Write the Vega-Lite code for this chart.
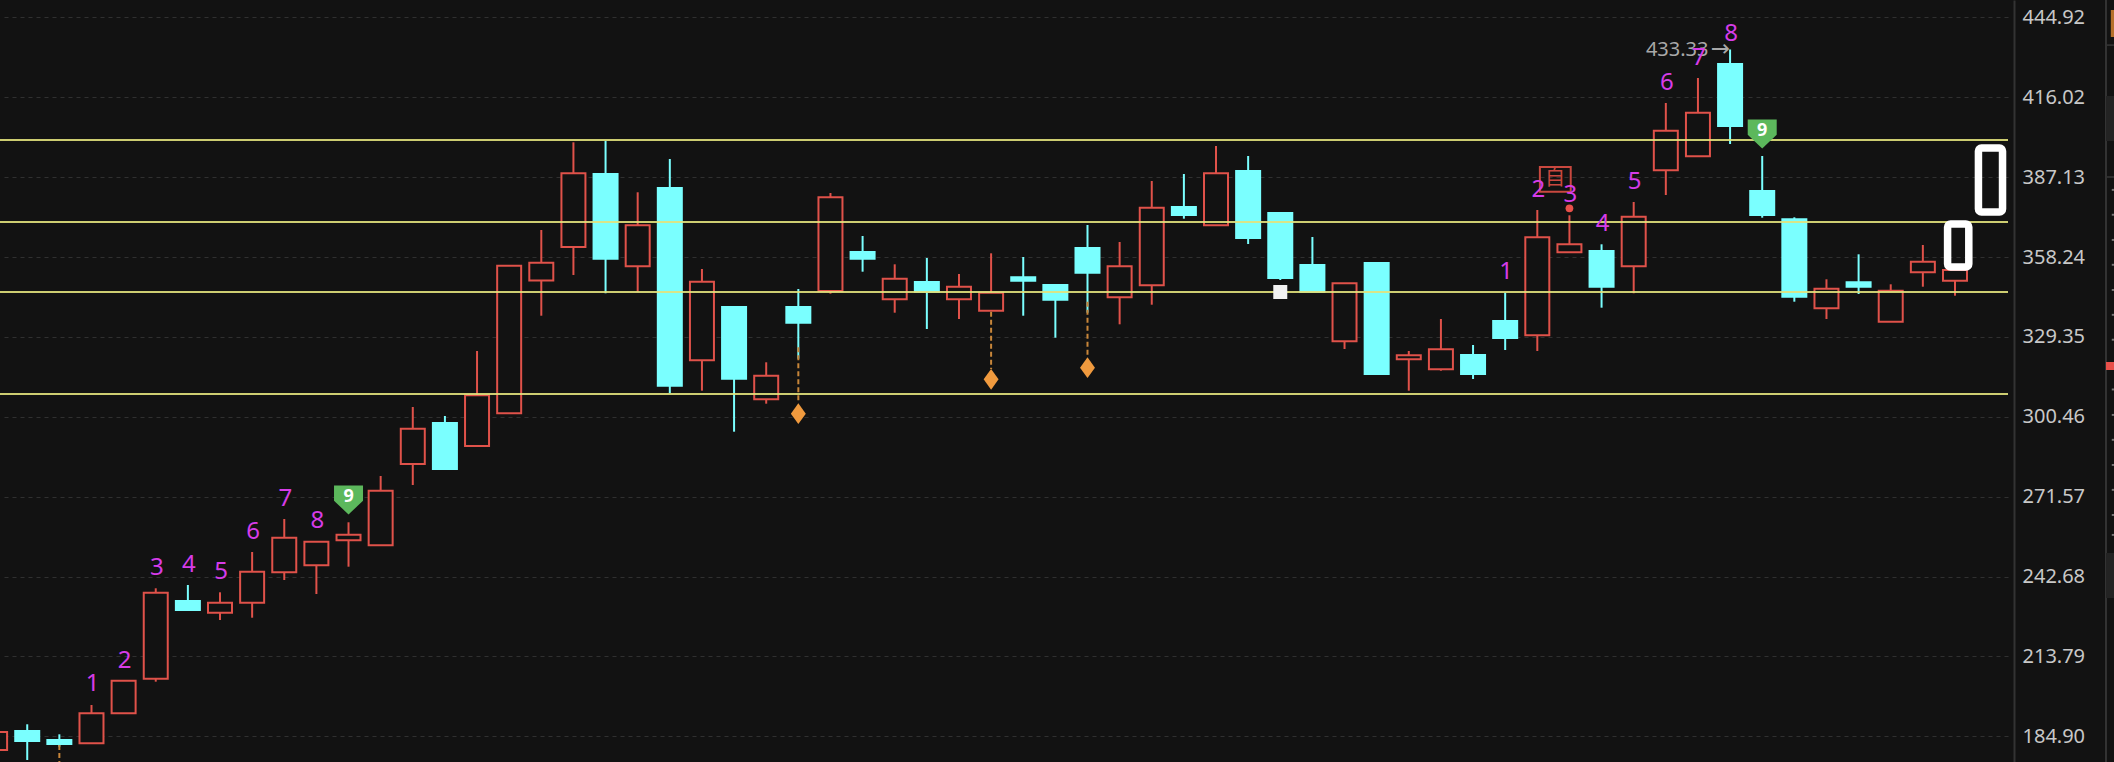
{
"$schema":"https://vega.github.io/schema/vega-lite/v6.json",
"width":2008,"height":762,
"autosize":"none",
"padding":{"left":0,"top":0,"right":106,"bottom":0},
"background":"#121212",
"config":{"view":{"stroke":null}},
"resolve":{"axis":{"x":"independent","y":"independent"}},
"datasets":{
"candles":[
{"i":0,"dir":"up","open":179.95,"high":186.46,"low":179.95,"close":186.46},
{"i":1,"dir":"down","open":186.82,"high":189.25,"low":176.34,"close":183.21},
{"i":2,"dir":"down","open":183.57,"high":185.63,"low":181.15,"close":182.12},
{"i":3,"dir":"up","open":182.38,"high":196.23,"low":182.38,"close":193.23},
{"i":4,"dir":"up","open":193.23,"high":205.02,"low":193.23,"close":205.02},
{"i":5,"dir":"up","open":205.74,"high":238.44,"low":204.66,"close":236.85},
{"i":6,"dir":"down","open":233.84,"high":239.63,"low":230.59,"close":230.59},
{"i":7,"dir":"up","open":229.61,"high":236.99,"low":226.97,"close":233.23},
{"i":8,"dir":"up","open":233.23,"high":251.57,"low":227.8,"close":244.44},
{"i":9,"dir":"up","open":244.22,"high":263.5,"low":241.44,"close":256.74},
{"i":10,"dir":"up","open":246.76,"high":255.29,"low":236.38,"close":255.29},
{"i":11,"dir":"up","open":255.8,"high":262.31,"low":246.25,"close":257.82},
{"i":12,"dir":"up","open":253.99,"high":279.06,"low":253.99,"close":273.74},
{"i":13,"dir":"up","open":283.4,"high":304.01,"low":275.8,"close":296.16},
{"i":14,"dir":"down","open":298.23,"high":300.76,"low":281.59,"close":281.59},
{"i":15,"dir":"up","open":289.91,"high":324.27,"low":289.91,"close":308.24},
{"i":16,"dir":"up","open":301.73,"high":355.12,"low":301.73,"close":355.12},
{"i":17,"dir":"up","open":349.77,"high":368.03,"low":337.03,"close":356.2},
{"i":18,"dir":"up","open":361.88,"high":399.75,"low":351.76,"close":388.54},
{"i":19,"dir":"down","open":388.29,"high":400.22,"low":345.14,"close":357.65},
{"i":20,"dir":"up","open":354.9,"high":381.67,"low":345.72,"close":369.73},
{"i":21,"dir":"down","open":383.22,"high":393.71,"low":308.97,"close":311.72},
{"i":22,"dir":"up","open":320.9,"high":353.93,"low":309.91,"close":349.33},
{"i":23,"dir":"down","open":340.18,"high":340.18,"low":295.08,"close":314.25},
{"i":24,"dir":"up","open":306.8,"high":320.18,"low":305.21,"close":315.33},
{"i":25,"dir":"down","open":340.18,"high":346.69,"low":321.48,"close":334.5},
{"i":26,"dir":"up","open":345.97,"high":381.41,"low":344.99,"close":379.86},
{"i":27,"dir":"down","open":360.07,"high":365.86,"low":352.95,"close":357.65},
{"i":28,"dir":"up","open":342.97,"high":355.62,"low":338.12,"close":350.42},
{"i":29,"dir":"down","open":349.22,"high":357.9,"low":332.22,"close":345.72},
{"i":30,"dir":"up","open":342.97,"high":352.12,"low":335.84,"close":347.52},
{"i":31,"dir":"up","open":338.84,"high":359.6,"low":338.84,"close":345.35},
{"i":32,"dir":"down","open":350.92,"high":358.27,"low":337.03,"close":349.69},
{"i":33,"dir":"down","open":348.14,"high":348.14,"low":329.08,"close":342.82},
{"i":34,"dir":"down","open":361.52,"high":369.84,"low":338.12,"close":352.59},
{"i":35,"dir":"up","open":343.69,"high":363.69,"low":333.92,"close":354.9},
{"i":36,"dir":"up","open":348.03,"high":385.75,"low":341.01,"close":376.1},
{"i":37,"dir":"down","open":376.35,"high":388.29,"low":372.12,"close":373.46},
{"i":38,"dir":"up","open":369.73,"high":398.41,"low":369.73,"close":388.54},
{"i":39,"dir":"down","open":389.37,"high":394.8,"low":362.97,"close":365.14},
{"i":40,"dir":"down","open":374.18,"high":374.54,"low":349.95,"close":350.67},
{"i":41,"dir":"down","open":355.37,"high":365.5,"low":345.72,"close":345.72},
{"i":42,"dir":"up","open":327.77,"high":348.75,"low":324.99,"close":348.75},
{"i":43,"dir":"down","open":356.1,"high":356.1,"low":315.59,"close":315.95},
{"i":44,"dir":"up","open":321.26,"high":324.27,"low":309.91,"close":322.71},
{"i":45,"dir":"up","open":317.65,"high":335.84,"low":317.14,"close":324.88},
{"i":46,"dir":"down","open":322.82,"high":326.44,"low":314.14,"close":315.95},
{"i":47,"dir":"down","open":335.12,"high":345.35,"low":324.63,"close":328.97},
{"i":48,"dir":"up","open":329.95,"high":375.27,"low":324.27,"close":365.39},
{"i":49,"dir":"up","open":359.97,"high":373.35,"low":359.97,"close":362.86},
{"i":50,"dir":"down","open":360.44,"high":362.86,"low":339.93,"close":347.52},
{"i":51,"dir":"up","open":354.9,"high":378.16,"low":345.14,"close":372.84},
{"i":52,"dir":"up","open":389.62,"high":413.97,"low":380.69,"close":403.95},
{"i":53,"dir":"up","open":394.69,"high":423.01,"low":394.69,"close":410.46},
{"i":54,"dir":"down","open":428.07,"high":433.33,"low":399.14,"close":405.65},
{"i":55,"dir":"down","open":382.14,"high":394.8,"low":372.48,"close":373.46},
{"i":56,"dir":"down","open":371.9,"high":372.62,"low":342.1,"close":343.91},
{"i":57,"dir":"up","open":339.71,"high":350.2,"low":335.84,"close":346.8},
{"i":58,"dir":"down","open":349.12,"high":359.24,"low":344.88,"close":347.52},
{"i":59,"dir":"up","open":334.86,"high":348.39,"low":334.86,"close":346.08},
{"i":60,"dir":"up","open":352.73,"high":362.61,"low":347.52,"close":356.57},
{"i":61,"dir":"up","open":349.69,"high":353.56,"low":344.27,"close":353.56}
],
"levels":[{"p":400.58},{"p":370.92},{"p":345.61},{"p":308.71}],
"dashes":[{"i":2,"a":181.76,"b":175.61},{"i":25,"a":325.6,"b":305.46},{"i":31,"a":338.48,"b":317.76},{"i":34,"a":342.1,"b":322.1}],
"diamonds":[{"i":25,"p":301.59},{"i":31,"p":314.03},{"i":34,"p":318.23}],
"counts":[
{"i":3,"p":203.71,"t":"1"},{"i":4,"p":212.25,"t":"2"},{"i":5,"p":245.89,"t":"3"},{"i":6,"p":246.87,"t":"4"},{"i":7,"p":244.44,"t":"5"},{"i":8,"p":258.91,"t":"6"},{"i":9,"p":270.85,"t":"7"},{"i":10,"p":262.89,"t":"8"},
{"i":47,"p":352.95,"t":"1"},{"i":48,"p":382.5,"t":"2"},{"i":49,"p":380.69,"t":"3"},{"i":50,"p":370.2,"t":"4"},{"i":51,"p":385.5,"t":"5"},{"i":52,"p":421.31,"t":"6"},{"i":53,"p":430.17,"t":"7"},{"i":54,"p":438.81,"t":"8"}
],
"nines":[{"i":11,"p":270.38,"tp":271.46,"t":"9"},{"i":55,"p":402.75,"tp":403.84,"t":"9"}],
"frames":[{"a":60.77,"b":61.43,"lo":354.65,"hi":370.2},{"a":61.73,"b":62.48,"lo":374.54,"hi":397.69}],
"panel":[
{"a":65.7,"b":65.95,"lo":400.22,"hi":416.5,"c":"#232323"},
{"a":65.7,"b":65.95,"lo":234.93,"hi":251.2,"c":"#232323"},
{"a":65.7,"b":65.95,"lo":434.6,"hi":435.2,"c":"#333333"},
{"a":65.7,"b":65.95,"lo":386.9,"hi":387.5,"c":"#333333"},
{"a":65.85,"b":65.95,"lo":437.84,"hi":447.6,"c":"#b5702a"},
{"a":65.7,"b":65.95,"lo":317.39,"hi":320.29,"c":"#e8504a"},
{"a":65.88,"b":65.95,"lo":382.2,"hi":382.9,"c":"#777777"},
{"a":65.88,"b":65.95,"lo":373.2,"hi":373.9,"c":"#777777"},
{"a":65.88,"b":65.95,"lo":364.1,"hi":364.8,"c":"#777777"},
{"a":65.88,"b":65.95,"lo":355.1,"hi":355.8,"c":"#777777"},
{"a":65.88,"b":65.95,"lo":346,"hi":346.7,"c":"#777777"},
{"a":65.88,"b":65.95,"lo":337,"hi":337.7,"c":"#777777"},
{"a":65.88,"b":65.95,"lo":328,"hi":328.7,"c":"#777777"},
{"a":65.88,"b":65.95,"lo":310,"hi":310.7,"c":"#777777"},
{"a":65.88,"b":65.95,"lo":300.8,"hi":301.5,"c":"#777777"},
{"a":65.88,"b":65.95,"lo":291.8,"hi":292.5,"c":"#777777"},
{"a":65.88,"b":65.95,"lo":282.7,"hi":283.4,"c":"#777777"},
{"a":65.88,"b":65.95,"lo":273.7,"hi":274.4,"c":"#777777"},
{"a":65.88,"b":65.95,"lo":264.6,"hi":265.3,"c":"#777777"},
{"a":65.88,"b":65.95,"lo":257.4,"hi":258.1,"c":"#777777"}
]
},
"layer":[
{"data":{"name":"candles"},"mark":{"type":"rule","strokeWidth":2},
 "encoding":{
  "x":{"field":"i","type":"quantitative","scale":{"domain":[0.1525,62.65],"nice":false,"zero":false,"padding":0},"axis":null},
  "y":{"field":"low","type":"quantitative","scale":{"domain":[175.61,451.22],"nice":false,"zero":false,"padding":0},
   "axis":{"orient":"right","title":null,"offset":6,"values":[184.90,213.79,242.68,271.57,300.46,329.35,358.24,387.13,416.02,444.92],"format":".2f",
    "grid":true,"gridColor":"#303030","gridDash":[4,4],"gridWidth":1,"ticks":false,"domain":true,"domainColor":"#333333","domainWidth":2,
    "labelColor":"#c8c8c8","labelFont":"Noto Sans","labelFontSize":20,"labelPadding":8,"labelAlign":"left","labelBaseline":"middle","labelOverlap":false,"labelBound":false,"labelFlush":false}},
  "y2":{"field":"high"},
  "stroke":{"field":"dir","type":"nominal","legend":null,"scale":{"domain":["up","down"],"range":["#e0524a","#7affff"]}}
 }},
{"data":{"name":"candles"},"mark":{"type":"bar","size":24,"strokeWidth":2,"orient":"vertical"},
 "encoding":{
  "x":{"field":"i","type":"quantitative","scale":{"domain":[0.1525,62.65],"nice":false,"zero":false,"padding":0},"axis":null},
  "y":{"field":"open","type":"quantitative","scale":{"domain":[175.61,451.22],"nice":false,"zero":false,"padding":0},"axis":null},
  "y2":{"field":"close"},
  "fill":{"field":"dir","type":"nominal","legend":null,"scale":{"domain":["up","down"],"range":["#121212","#7affff"]}},
  "stroke":{"field":"dir","type":"nominal","legend":null,"scale":{"domain":["up","down"],"range":["#e0524a","#7affff"]}}
 }},
{"data":{"name":"levels"},"mark":{"type":"rule","color":"#e2e27c","strokeWidth":2,"opacity":0.9},
 "encoding":{"y":{"field":"p","type":"quantitative","axis":null}}},
{"data":{"name":"dashes"},"mark":{"type":"rule","color":"#c8863a","strokeWidth":2,"strokeDash":[5,3]},
 "encoding":{"x":{"field":"i","type":"quantitative","axis":null},"y":{"field":"a","type":"quantitative","axis":null},"y2":{"field":"b"}}},
{"data":{"name":"diamonds"},"mark":{"type":"point","shape":"M0,-1 L0.72,0 L0,1 L-0.72,0 Z","size":430,"filled":true,"color":"#f09a3e","opacity":1},
 "encoding":{"x":{"field":"i","type":"quantitative","axis":null},"y":{"field":"p","type":"quantitative","axis":null}}},
{"data":{"values":[{"i":40,"p":345.6}]},"mark":{"type":"point","shape":"square","size":196,"filled":true,"color":"#f2f2f2","opacity":1},
 "encoding":{"x":{"field":"i","type":"quantitative","axis":null},"y":{"field":"p","type":"quantitative","axis":null}}},
{"data":{"values":[{"a":48.08,"b":49.04,"lo":381.89,"hi":390.82}]},"mark":{"type":"rect","fill":"transparent","stroke":"#c9483f","strokeWidth":2},
 "encoding":{"x":{"field":"a","type":"quantitative","axis":null},"x2":{"field":"b"},"y":{"field":"lo","type":"quantitative","axis":null},"y2":{"field":"hi"}}},
{"data":{"values":[{"i":48.55,"p":386.48,"t":"自"}]},"mark":{"type":"text","font":"Noto Sans CJK SC","fontSize":20,"color":"#c9483f","baseline":"middle","align":"center"},
 "encoding":{"x":{"field":"i","type":"quantitative","axis":null},"y":{"field":"p","type":"quantitative","axis":null},"text":{"field":"t"}}},
{"data":{"values":[{"i":49,"p":375.88}]},"mark":{"type":"point","shape":"circle","size":60,"filled":true,"color":"#e8504a","opacity":1},
 "encoding":{"x":{"field":"i","type":"quantitative","axis":null},"y":{"field":"p","type":"quantitative","axis":null}}},
{"data":{"values":[{"i":51.38,"p":433.1,"t":"433.33"}]},"mark":{"type":"text","font":"Noto Sans","fontSize":20,"color":"#a8a8a8","baseline":"middle","align":"left"},
 "encoding":{"x":{"field":"i","type":"quantitative","axis":null},"y":{"field":"p","type":"quantitative","axis":null},"text":{"field":"t"}}},
{"data":{"values":[{"i":53.4,"p":433.5,"t":"→"}]},"mark":{"type":"text","font":"DejaVu Sans","fontSize":23,"color":"#a8a8a8","baseline":"middle","align":"left"},
 "encoding":{"x":{"field":"i","type":"quantitative","axis":null},"y":{"field":"p","type":"quantitative","axis":null},"text":{"field":"t"}}},
{"data":{"name":"counts"},"mark":{"type":"text","font":"Noto Sans","fontSize":24,"color":"#d63ce8","baseline":"middle","align":"center","dx":1},
 "encoding":{"x":{"field":"i","type":"quantitative","axis":null},"y":{"field":"p","type":"quantitative","axis":null},"text":{"field":"t"}}},
{"data":{"name":"nines"},"mark":{"type":"point","shape":"M-1,-1 L1,-1 L1,0.05 L0,1 L-1,0.05 Z","size":841,"filled":true,"color":"#5cb85c","opacity":1},
 "encoding":{"x":{"field":"i","type":"quantitative","axis":null},"y":{"field":"p","type":"quantitative","axis":null}}},
{"data":{"name":"nines"},"mark":{"type":"text","font":"Noto Sans","fontSize":18,"fontWeight":"bold","color":"#ffffff","baseline":"middle","align":"center"},
 "encoding":{"x":{"field":"i","type":"quantitative","axis":null},"y":{"field":"tp","type":"quantitative","axis":null},"text":{"field":"t"}}},
{"data":{"name":"frames"},"mark":{"type":"rect","fill":"transparent","stroke":"#ffffff","strokeWidth":7.5,"cornerRadius":3},
 "encoding":{"x":{"field":"a","type":"quantitative","axis":null},"x2":{"field":"b"},"y":{"field":"lo","type":"quantitative","axis":null},"y2":{"field":"hi"}}},
{"data":{"values":[{"x":65.7}]},"mark":{"type":"rule","color":"#333333","strokeWidth":2},
 "encoding":{"x":{"field":"x","type":"quantitative","axis":null}}},
{"data":{"name":"panel"},"mark":{"type":"rect"},
 "encoding":{"x":{"field":"a","type":"quantitative","axis":null},"x2":{"field":"b"},"y":{"field":"lo","type":"quantitative","axis":null},"y2":{"field":"hi"},"fill":{"field":"c","type":"nominal","scale":null,"legend":null}}}
]
}
